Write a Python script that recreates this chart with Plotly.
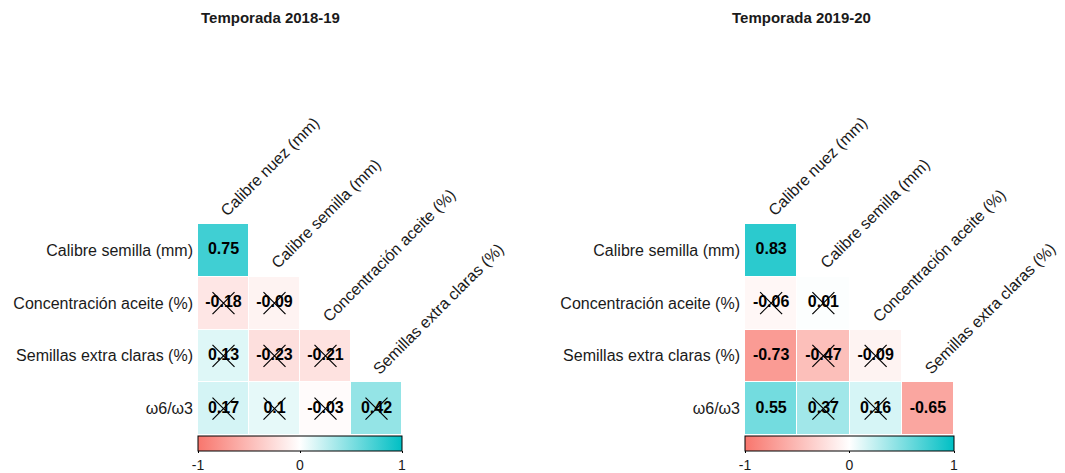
import plotly.graph_objects as go

filas = ["Calibre semilla (mm)", "Concentración aceite (%)", "Semillas extra claras (%)", "ω6/ω3"]
columnas = ["Calibre nuez (mm)", "Calibre semilla (mm)", "Concentración aceite (%)", "Semillas extra claras (%)"]

titulos = ["Temporada 2018-19", "Temporada 2019-20"]

r_1819 = [[0.75], [-0.18, -0.09], [0.13, -0.23, -0.21], [0.17, 0.10, -0.03, 0.42]]
sig_1819 = [[1], [0, 0], [0, 0, 0], [0, 0, 0, 0]]

r_1920 = [[0.83], [-0.06, 0.01], [-0.73, -0.47, -0.09], [0.55, 0.37, 0.16, -0.65]]
sig_1920 = [[1], [0, 0], [1, 0, 0], [1, 0, 0, 1]]

escala = [[0, "#F8766D"], [0.5, "#FFFFFF"], [1, "#00BFC4"]]
# the page has an 8px body margin, so the figure is drawn 8px right/down
OFF = 8
W, H = 1065 - OFF, 473 - OFF
top_px, bot_px = 224 - OFF, 435 - OFF
paneles = [
    dict(r=r_1819, sig=sig_1819, x0=198 - OFF, x1=402 - OFF, tx=270 - OFF),
    dict(r=r_1920, sig=sig_1920, x0=745 - OFF, x1=954 - OFF, tx=801 - OFF),
]


def fmt(v):
    s = f"{v:.2f}".rstrip("0").rstrip(".")
    return s


fig = go.Figure()
anots = []
for k, p in enumerate(paneles):
    n = len(filas)
    z = [[None] * n for _ in range(n)]
    tx, ty, tt, cx, cy = [], [], [], [], []
    for i, fila in enumerate(p["r"]):
        for j, v in enumerate(fila):
            z[i][j] = v
            tx.append(j)
            ty.append(i)
            tt.append("<b>" + fmt(v) + "</b>")
            if not p["sig"][i][j]:
                cx.append(j)
                cy.append(i)
    xa = "x" if k == 0 else "x2"
    ya = "y" if k == 0 else "y2"
    fig.add_trace(go.Heatmap(
        z=z, x=list(range(n)), y=list(range(n)), colorscale=escala, zmin=-1, zmax=1,
        xgap=1, ygap=1, hoverongaps=False, xaxis=xa, yaxis=ya,
        colorbar=dict(
            orientation="h", xref="container", yref="container",
            x=(p["x0"] + p["x1"]) / 2 / W, xanchor="center",
            y=1 - (436 - OFF) / H, yanchor="top", thickness=15,
            lenmode="pixels", len=p["x1"] - p["x0"],
            outlinecolor="black", outlinewidth=1,
            tickvals=[-1, 0, 1], ticktext=["-1", "0", "1"], ticks="outside", ticklen=2,
            tickcolor="black", tickfont=dict(size=14, color="#1a1a1a"), xpad=0, ypad=0,
        ),
    ))
    fig.add_trace(go.Scatter(
        x=tx, y=ty, text=tt, mode="text", xaxis=xa, yaxis=ya, showlegend=False,
        textfont=dict(size=16, color="black", family="Liberation Sans, Arial"),
        hoverinfo="skip",
    ))
    fig.add_trace(go.Scatter(
        x=cx, y=cy, mode="markers", xaxis=xa, yaxis=ya, showlegend=False,
        marker=dict(symbol="x-thin-open", size=22, color="black",
                    line=dict(width=1.2, color="black")),
        hoverinfo="skip",
    ))
    sfx = "" if k == 0 else "2"
    fig.layout["xaxis" + sfx] = dict(
        domain=[p["x0"] / W, p["x1"] / W], range=[-0.5, n - 0.5],
        showticklabels=False, showgrid=False, zeroline=False, ticks="",
        anchor="y" + sfx,
    )
    fig.layout["yaxis" + sfx] = dict(
        domain=[1 - bot_px / H, 1 - top_px / H], range=[n - 0.5, -0.5],
        tickvals=list(range(n)), ticktext=filas, showgrid=False, zeroline=False,
        ticks="", ticklabelstandoff=4, tickfont=dict(size=16, color="#1a1a1a"),
        anchor="x" + sfx,
    )
    for j, col in enumerate(columnas):
        anots.append(dict(
            x=j, y=j - 0.5, xref=xa, yref=ya, text=col, showarrow=False,
            textangle=-45, xanchor="left", yanchor="bottom", xshift=-9, yshift=2,
            font=dict(size=16, color="#1a1a1a"),
        ))
    anots.append(dict(
        x=p["tx"] / W, y=1 - (17 - OFF) / H, xref="paper", yref="paper",
        text="<b>" + titulos[k] + "</b>",
        showarrow=False, xanchor="center", yanchor="middle", font=dict(size=15, color="#1a1a1a"),
    ))

fig.update_layout(
    width=W, height=H, margin=dict(l=0, r=0, t=0, b=0, autoexpand=False),
    plot_bgcolor="white", paper_bgcolor="white",
    font=dict(family="Liberation Sans, Arial"),
    annotations=anots, showlegend=False,
)
fig.write_html("out.html")
